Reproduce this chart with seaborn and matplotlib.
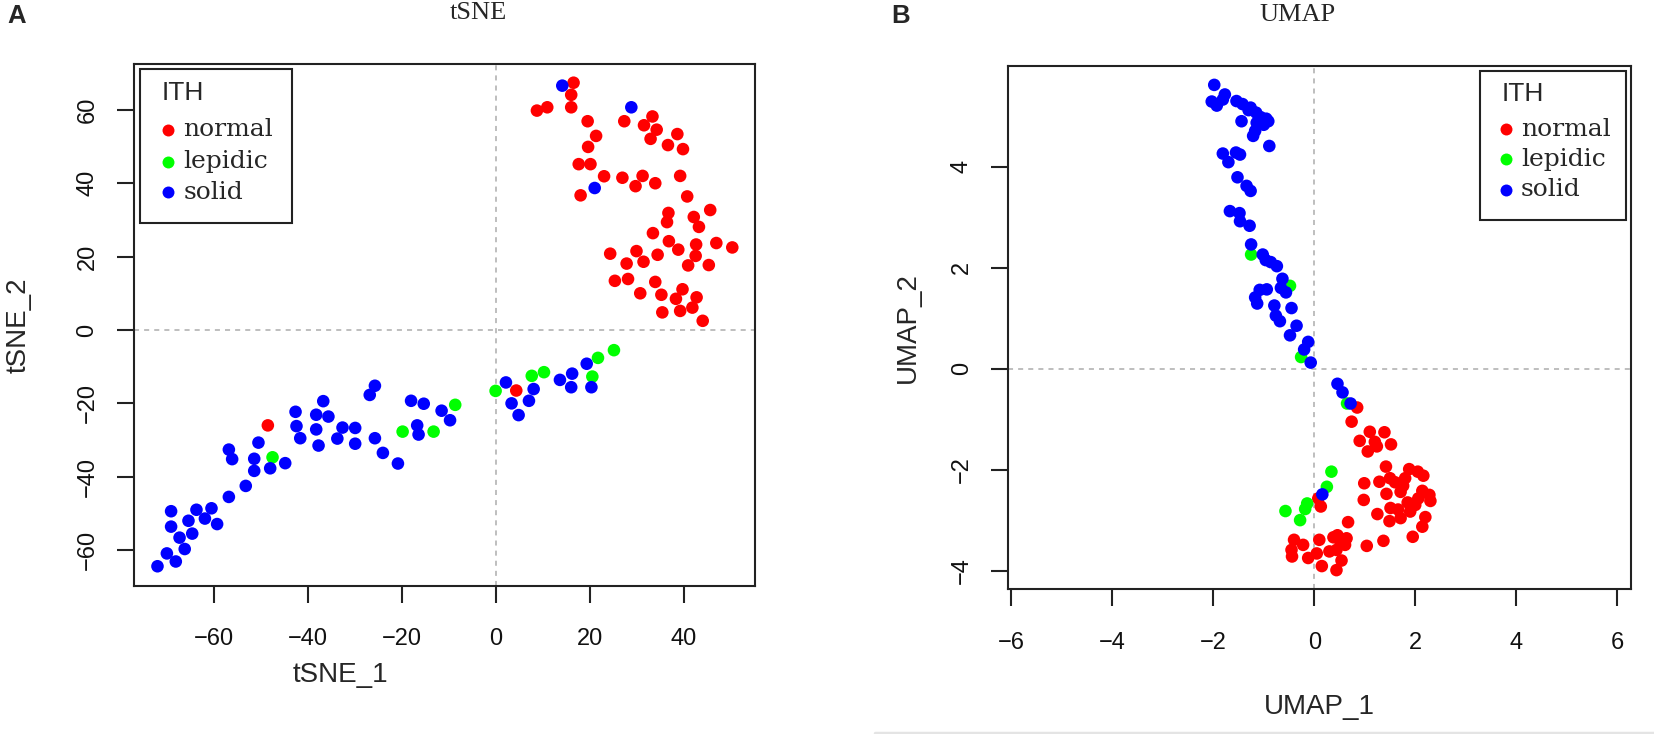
import matplotlib
matplotlib.use("Agg")
import matplotlib.pyplot as plt
import pandas as pd
import seaborn as sns
from matplotlib.patches import Rectangle
from matplotlib.lines import Line2D

# ---------------- data ----------------
groups = ["normal", "lepidic", "solid"]
group_colors = ["#FF0000", "#00FF00", "#0000FF"]

tsne_normal_x = [16.5, 16.0, 8.7, 10.9, 16.0, 19.5, 27.3, 33.3, 31.5, 34.2, 32.9, 38.6, 36.6, 39.8,
                 21.3, 19.6, 17.6, 20.1, 23.0, 26.9, 31.2, 29.7, 33.9, 39.2, 18.0, 40.7, 45.6, 36.7,
                 36.4, 42.1, 43.2, 33.4, 36.8, 38.8, 42.6, 46.9, 50.3, 24.3, 29.9, 34.4, 27.8, 31.4,
                 42.5, 40.9, 45.3, 25.3, 28.1, 33.9, 30.7, 35.2, 39.7, 38.3, 42.7, 35.4, 39.2, 41.8,
                 44.0, -48.6, 4.3]
tsne_normal_y = [67.4, 64.1, 59.8, 60.7, 60.7, 56.9, 56.9, 58.2, 55.8, 54.6, 52.1, 53.4, 50.4, 49.3,
                 52.9, 49.9, 45.2, 45.2, 41.9, 41.5, 42.0, 39.2, 40.0, 42.0, 36.7, 36.4, 32.7, 31.9,
                 29.4, 30.8, 28.1, 26.4, 24.2, 21.9, 23.3, 23.7, 22.5, 20.8, 21.5, 20.5, 18.1, 18.6,
                 20.2, 17.6, 17.7, 13.4, 13.9, 13.1, 10.0, 9.6, 11.1, 8.5, 8.9, 4.8, 5.2, 6.1,
                 2.5, -26.0, -16.5]
tsne_lepidic_x = [-47.6, -19.9, -13.3, -8.7, -0.1, 7.6, 10.2, 20.5, 21.7, 25.1]
tsne_lepidic_y = [-34.7, -27.7, -27.7, -20.4, -16.6, -12.5, -11.5, -12.7, -7.6, -5.5]
tsne_solid_x = [14.1, 28.8, 21.0,
                2.1, 8.0, 3.3, 7.0, 4.8, 13.6, 16.2, 16.0, 19.3, 20.3,
                -72.1, -70.1, -68.2, -66.3, -67.4, -64.7, -69.2, -69.2, -65.5, -63.8, -62.0, -60.6,
                -59.4, -56.9, -53.3, -51.5, -48.1, -51.5, -50.6, -44.9, -56.9, -56.2, -42.7, -42.5,
                -41.7, -36.8, -38.3, -35.7, -38.3, -37.8, -33.8, -32.7, -30.0, -30.0, -25.8, -24.1,
                -20.9, -26.9, -25.8, -18.1, -15.4, -16.8, -16.5, -11.6, -9.8]
tsne_solid_y = [66.6, 60.7, 38.7,
                -14.3, -16.1, -20.0, -19.3, -23.2, -13.6, -11.9, -15.6, -9.2, -15.6,
                -64.4, -60.9, -63.1, -59.7, -56.6, -55.5, -53.6, -49.4, -52.0, -49.0, -51.4, -48.6,
                -52.9, -45.5, -42.5, -38.4, -37.7, -35.1, -30.7, -36.3, -32.6, -35.2, -22.3, -26.2,
                -29.5, -19.4, -23.1, -23.6, -27.1, -31.5, -29.6, -26.6, -26.7, -31.0, -29.5, -33.5,
                -36.4, -17.7, -15.2, -19.3, -20.1, -26.0, -28.5, -22.0, -24.6]

umap_normal_x = [0.85, 0.74, 1.10, 1.39, 0.90, 1.20, 1.24, 1.52, 1.06, 1.42, 1.50, 1.29, 0.99, 1.88,
                 2.05, 2.16, 1.80, 1.76, 1.71, 2.14, 2.28, 1.43, 2.06, 2.00, 0.98, 1.51, 1.66, 1.90,
                 1.25, 1.71, 1.49, 2.20, 2.14, 1.95, 1.37, 1.04, 0.67, 0.38, 0.64, 0.52, 0.44, 0.61,
                 0.54, 0.44, 0.10, 0.05, 0.15, -0.12, -0.40, -0.22, -0.45, -0.44, 0.08, 0.13,
                 1.60, 2.30, 0.30, 1.85, 0.46]
umap_normal_y = [-0.77, -1.05, -1.25, -1.26, -1.43, -1.45, -1.54, -1.50, -1.64, -1.94, -2.17, -2.24,
                 -2.27, -1.99, -2.04, -2.12, -2.17, -2.32, -2.44, -2.42, -2.50, -2.48, -2.57, -2.70,
                 -2.60, -2.76, -2.79, -2.83, -2.88, -2.96, -3.02, -2.94, -3.13, -3.33, -3.41, -3.51,
                 -3.04, -3.34, -3.36, -3.43, -3.59, -3.49, -3.80, -3.99, -3.39, -3.66, -3.91, -3.75,
                 -3.39, -3.49, -3.59, -3.72, -2.57, -2.73,
                 -2.25, -2.62, -3.62, -2.65, -3.30]
umap_lepidic_x = [-1.25, -0.48, -0.26, 0.65, 0.34, 0.25, -0.14, -0.18, -0.57, -0.28]
umap_lepidic_y = [2.26, 1.64, 0.23, -0.69, -2.04, -2.34, -2.67, -2.78, -2.82, -3.00]
umap_solid_x = [-1.98, -1.77, -2.03, -1.93, -1.81, -1.54, -1.42, -1.26, -1.15, -1.06, -0.91, -1.00,
                -1.14, -1.44, -1.17, -1.21, -0.89, -1.81, -1.70, -1.55, -1.47, -1.52, -1.34, -1.26,
                -1.67, -1.48, -1.47, -1.28, -1.25, -1.02, -0.96, -0.86, -0.74, -0.63, -0.66, -0.56,
                -0.94, -1.08, -1.17, -1.13, -0.79, -0.76, -0.68, -0.48, -0.45, -0.35, -0.12, -0.20,
                -0.07, 0.46, 0.56, 0.72, 0.16, -1.30, -0.95]
umap_solid_y = [5.62, 5.43, 5.29, 5.21, 5.33, 5.30, 5.24, 5.17, 5.07, 4.98, 4.90, 4.83,
                4.87, 4.90, 4.71, 4.61, 4.41, 4.26, 4.09, 4.28, 4.24, 3.79, 3.62, 3.52,
                3.12, 3.08, 2.92, 2.83, 2.46, 2.26, 2.15, 2.11, 2.03, 1.78, 1.60, 1.51,
                1.57, 1.56, 1.41, 1.29, 1.25, 1.05, 0.94, 0.66, 1.20, 0.85, 0.53, 0.38,
                0.12, -0.30, -0.47, -0.69, -2.49, 5.12, 4.95]

tsne_xticks = [-60, -40, -20, 0, 20, 40]
tsne_yticks = [-60, -40, -20, 0, 20, 40, 60]
umap_xticks = [-6, -4, -2, 0, 2, 4, 6]
umap_yticks = [-4, -2, 0, 2, 4]


def make_df(nx, ny, lx, ly, sx, sy):
    return pd.DataFrame({
        "x": list(nx) + list(lx) + list(sx),
        "y": list(ny) + list(ly) + list(sy),
        "ITH": ["normal"] * len(nx) + ["lepidic"] * len(lx) + ["solid"] * len(sx),
    })


tsne_df = make_df(tsne_normal_x, tsne_normal_y, tsne_lepidic_x, tsne_lepidic_y, tsne_solid_x, tsne_solid_y)
umap_df = make_df(umap_normal_x, umap_normal_y, umap_lepidic_x, umap_lepidic_y, umap_solid_x, umap_solid_y)

# ---------------- figure ----------------
sns.set_theme(style="white")
plt.rcParams["font.family"] = ["Liberation Sans", "DejaVu Sans"]
plt.rcParams["axes.unicode_minus"] = True

W, H = 1654, 734
fig = plt.figure(figsize=(W / 100, H / 100), dpi=100, facecolor="white")


def fx(px):
    return px / W


def fy(py):
    return 1 - py / H


FRAME = "#222222"


def setup_axes(ax, df, xlim, ylim, xticks, yticks):
    sns.scatterplot(data=df, x="x", y="y", hue="ITH", hue_order=groups, palette=group_colors,
                    s=82, linewidth=0, edgecolor="none", alpha=1, ax=ax, legend=False, zorder=3)
    ax.axhline(0, color="#BEBEBE", lw=1.4, ls=(0, (2.6, 2.6)), zorder=1)
    ax.axvline(0, color="#BEBEBE", lw=1.4, ls=(0, (2.6, 2.6)), zorder=1)
    ax.set_xlim(*xlim)
    ax.set_ylim(*ylim)
    ax.set_xticks(xticks)
    ax.set_yticks(yticks)
    ax.set_xlabel("")
    ax.set_ylabel("")
    for sp in ax.spines.values():
        sp.set_visible(True)
        sp.set_color(FRAME)
        sp.set_linewidth(1.5)
    ax.tick_params(axis="both", direction="out", length=12, width=1.5, color=FRAME,
                   labelsize=17, labelcolor="#111111", bottom=True, left=True)
    ax.tick_params(axis="x", pad=18.5)
    ax.tick_params(axis="y", pad=13.5, labelrotation=90)
    for lbl in ax.get_yticklabels():
        lbl.set_verticalalignment("center")
    ax.grid(False)
    ax.set_facecolor("white")


ax1 = fig.add_axes([fx(134), fy(585.7), (755.3 - 134) / W, (585.7 - 64) / H])
setup_axes(ax1, tsne_df, (-77.1, 55.2), (-69.7, 72.5), tsne_xticks, tsne_yticks)

ax2 = fig.add_axes([fx(1008.2), fy(589.3), (1631.4 - 1008.2) / W, (589.3 - 65.7) / H])
setup_axes(ax2, umap_df, (-6.06, 6.28), (-4.37, 6.0), umap_xticks, umap_yticks)

# axis labels
ax1.set_xlabel("tSNE_1", fontsize=20)
ax1.xaxis.set_label_coords((340 - 134) / 621.3, (585.7 - 675) / 521.7)
ax1.xaxis.label.set_verticalalignment("center")
ax1.set_ylabel("tSNE_2", fontsize=20)
ax1.yaxis.set_label_coords((19 - 134) / 621.3, (585.7 - 325) / 521.7)
ax1.yaxis.label.set_verticalalignment("center")

ax2.set_xlabel("UMAP_1", fontsize=20)
ax2.xaxis.set_label_coords(0.5, (589.3 - 707) / 523.6)
ax2.xaxis.label.set_verticalalignment("center")
ax2.set_ylabel("UMAP_2", fontsize=20)
ax2.yaxis.set_label_coords((908 - 1008.2) / 623.2, (589.3 - 327.5) / 523.6)
ax2.yaxis.label.set_verticalalignment("center")

# titles and panel letters
fig.text(fx(478), fy(13), "tSNE", ha="center", va="center", fontsize=19, family="Liberation Serif")
fig.text(fx(1297.5), fy(15), "UMAP", ha="center", va="center", fontsize=19, family="Liberation Serif")
fig.text(fx(17), fy(16), "A", ha="center", va="center", fontsize=18.5, fontweight="bold")
fig.text(fx(900.7), fy(16), "B", ha="center", va="center", fontsize=18.5, fontweight="bold")


# legends
def draw_legend(box, title_xy, marker_x, marker_ys, text_x):
    x0, y0, x1, y1 = box
    fig.add_artist(Rectangle((fx(x0), fy(y1)), (x1 - x0) / W, (y1 - y0) / H,
                             transform=fig.transFigure, facecolor="white", edgecolor=FRAME,
                             lw=1.5, zorder=5))
    fig.text(fx(title_xy[0]), fy(title_xy[1]), "ITH", ha="left", va="baseline",
             fontsize=19, zorder=6)
    for g, c, my in zip(groups, group_colors, marker_ys):
        fig.add_artist(Line2D([fx(marker_x)], [fy(my)], transform=fig.transFigure, marker="o",
                              markersize=8.6, color=c, markeredgewidth=0, linestyle="none",
                              zorder=6))
        fig.text(fx(text_x), fy(my + 6.5), g, ha="left", va="baseline", fontsize=18,
                 family="DejaVu Serif", zorder=6)


draw_legend((140, 69.3, 291.7, 223.3), (162, 100), 167.7, (130, 161.7, 192.3), 183.5)
draw_legend((1479.6, 71.3, 1625.8, 220), (1502, 101), 1505.9, (129.3, 159.3, 190), 1520.8)

# faint panel separator line at the bottom of panel B
fig.add_artist(Line2D([fx(875), 1], [fy(732.5), fy(732.5)], transform=fig.transFigure,
                      color="#E4E4E4", lw=2.5))

fig.savefig("out.png", dpi=100, facecolor="white")
